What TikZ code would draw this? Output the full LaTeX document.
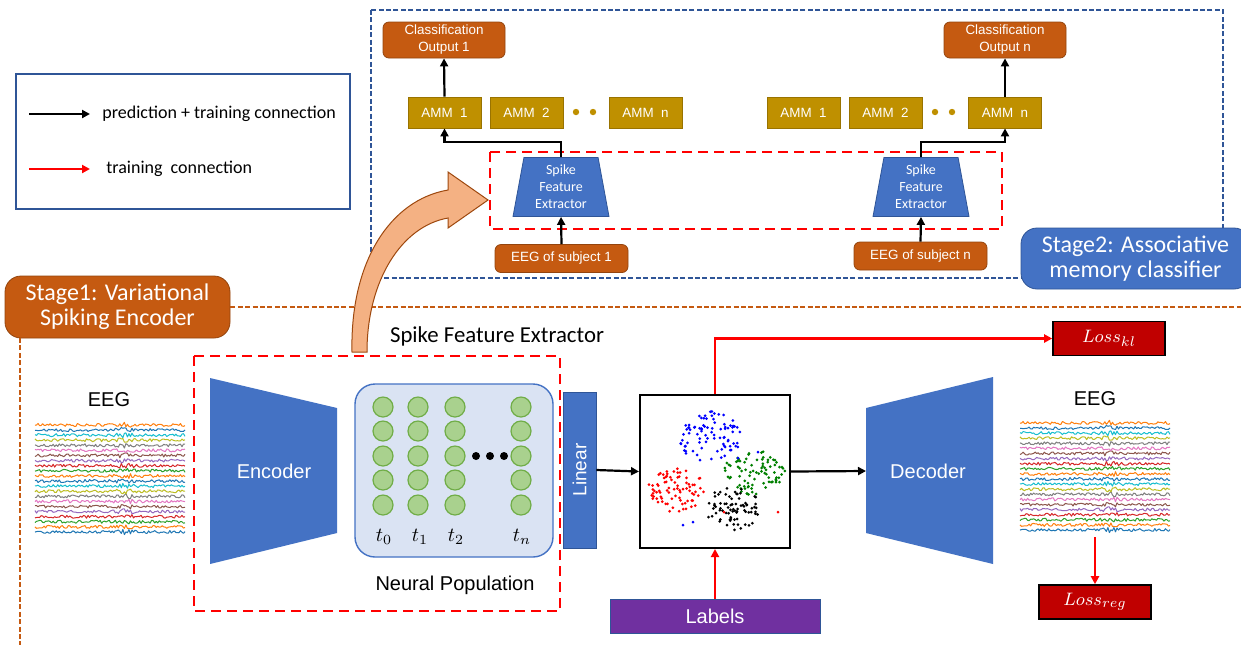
\documentclass[tikz,border=0pt]{standalone}
\usepackage{amsmath}
\usepackage{fontspec}
\setmainfont{Liberation Sans}
\newfontfamily\carlito{Carlito}
\usetikzlibrary{shapes.geometric,arrows.meta}

\definecolor{rust}{HTML}{C55A11}
\definecolor{office}{HTML}{4472C4}
\definecolor{navy}{HTML}{2F5597}
\definecolor{gold}{HTML}{BF9000}
\definecolor{popfill}{HTML}{DAE3F3}
\definecolor{cellfill}{HTML}{A9D18E}
\definecolor{cellline}{HTML}{70AD47}
\definecolor{lossred}{HTML}{C00000}
\definecolor{labpurple}{HTML}{7030A0}
\definecolor{peach}{HTML}{F4B183}
\definecolor{scgreen}{HTML}{008000}
\definecolor{mpl0}{HTML}{1F77B4}
\definecolor{mpl1}{HTML}{FF7F0E}
\definecolor{mpl2}{HTML}{2CA02C}
\definecolor{mpl3}{HTML}{D62728}
\definecolor{mpl4}{HTML}{9467BD}
\definecolor{mpl5}{HTML}{8C564B}
\definecolor{mpl6}{HTML}{E377C2}
\definecolor{mpl7}{HTML}{7F7F7F}
\definecolor{mpl8}{HTML}{BCBD22}
\definecolor{mpl9}{HTML}{17BECF}

\begin{document}
\begin{tikzpicture}[x=0.5pt, y=-0.5pt,
    tip/.style={-{Triangle[length=4pt,width=4pt]}},
    blk/.style={tip, draw=black, line width=1.1pt},
    redline/.style={tip, draw=red, line width=1.1pt},
    rustbox/.style={rounded corners=3pt, fill=rust, draw=rust!75!black, text=white, align=center, inner sep=0pt, font=\fontsize{6.7}{8.5}\selectfont},
    amm/.style={fill=gold, draw=gold!80!black, text=white, minimum width=36.5pt, minimum height=15.5pt, inner sep=0pt, font=\fontsize{6.7}{8}\selectfont},
    sfe/.style={trapezium, trapezium stretches body, trapezium left angle=76, trapezium right angle=76, fill=office, draw=navy, text=white, align=center, minimum width=48pt, minimum height=29.5pt, inner sep=0pt, font=\carlito\fontsize{7}{8.5}\selectfont},
    stage/.style={rounded corners=8pt, text=white, align=center, inner sep=0pt, font=\carlito\fontsize{12}{12.5}\selectfont},
    lossbox/.style={fill=lossred, draw=black, line width=0.8pt, text=white, minimum width=56pt, minimum height=17pt, inner sep=0pt, font=\fontsize{9.5}{11}\selectfont},
    bigtxt/.style={inner sep=0pt, font=\fontsize{10}{12}\selectfont},
    reddash/.style={draw=red, line width=1.2pt, dash pattern=on 5pt off 3pt},
    thindash/.style={line width=0.6pt, dash pattern=on 2.5pt off 1.2pt},
    cell/.style={circle, fill=cellfill, draw=cellline, line width=0.6pt, minimum size=10pt, inner sep=0pt}]
  \useasboundingbox (0,0) rectangle (1241,645);
  \fill[white] (0,0) rectangle (1241,645);

  % Legend
  \draw[navy, line width=0.8pt] (16,74) rectangle (350,209);
  \coordinate (lg1s) at (29,114);
  \coordinate (lg1e) at (90,114);
  \coordinate (lg2s) at (29,169);
  \coordinate (lg2e) at (90,169);
  \node[anchor=west, inner sep=0pt, font=\carlito\fontsize{9}{11}\selectfont] (lgtxt1) at (102,114) {prediction + training connection};
  \node[anchor=west, inner sep=0pt, font=\carlito\fontsize{9}{11}\selectfont] (lgtxt2) at (106,169) {training~~connection};
  \draw[blk, line width=1pt] (lg1s) -- (lg1e);
  \draw[redline, line width=1pt] (lg2s) -- (lg2e);

  % Stage 2
  \draw[navy, thindash] (371,10) rectangle (1223,278);
  \draw[reddash] (490,152) rectangle (1002,229);
  \node[rustbox, minimum width=61pt, minimum height=18pt] (out1) at (444,40) {Classification\\Output 1};
  \node[rustbox, minimum width=61pt, minimum height=18pt] (outn) at (1005,40) {Classification\\Output n};
  \node[amm] (amm1) at (444.5,112.5) {AMM~~1};
  \node[amm] (amm2) at (526.5,112.5) {AMM~~2};
  \node[amm] (ammn) at (645.5,112.5) {AMM~~n};
  \node[amm] (rammone) at (803.5,112.5) {AMM~~1};
  \node[amm] (rammtwo) at (885.5,112.5) {AMM~~2};
  \node[amm] (rammn) at (1005,112.5) {AMM~~n};
  \foreach \dx in {576,593,935,952}
    \fill[gold] (\dx,112) circle (1.6pt);
  \node[sfe] (sfe1) at (561,187) {Spike\\Feature\\Extractor};
  \node[sfe] (sfen) at (921,187) {Spike\\Feature\\Extractor};
  \node[rustbox, minimum width=66.5pt, minimum height=14pt] (subj1) at (561.5,258.5) {EEG of subject 1};
  \node[rustbox, minimum width=66.5pt, minimum height=14pt] (subjn) at (920.5,256) {EEG of subject n};
  \draw[blk] (subj1.north) -- (sfe1.south);
  \draw[blk] (subjn.north) -- (sfen.south);
  \draw[blk] (sfe1.north) -- ++(0,-15) -| (amm1.south);
  \draw[blk] (sfen.north) -- ++(0,-15) -| (rammn.south);
  \draw[blk] (amm1.north) -- (out1.south);
  \draw[blk] (rammn.north) -- (outn.south);
  \node[stage, fill=office, draw=navy, minimum width=114.5pt, minimum height=30.5pt] (st2) at (1135.5,258.5) {Stage2: Associative\\memory classifier};

  % Stage 1
  \node[stage, fill=rust, draw=rust!75!black, minimum width=112.5pt, minimum height=31pt] (st1) at (117.5,307) {Stage1: Variational\\Spiking Encoder};
  \draw[rust, thindash] (st1.east) -- (1241,307);
  \draw[rust, thindash] (20,338) -- (20,645);
  \draw[reddash] (194,356) rectangle (560,611);
  \node[font=\carlito\fontsize{11.4}{13}\selectfont, inner sep=0pt] (sfelab) at (497,336) {Spike Feature Extractor};

  % curved arrow
  \filldraw[fill=peach, draw=rust!80!black, line width=0.5pt] (352,352) .. controls (350,262) and (390,200) .. (448,190) -- (448,172) -- (488,200) -- (448,228) -- (448,218) .. controls (402,226) and (367,280) .. (367,352) -- cycle;

  % EEG traces
  \foreach \ox/\oy in {35/532, 1020/530}{
    \pgfmathsetseed{11}
    \pgfmathsetmacro\xend{\ox+150}
    \foreach \i in {0,...,21}{
      \pgfmathtruncatemacro\k{mod(\i,10)}
      \draw[mpl\k, line width=0.5pt, line join=round] plot[domain=\ox:\xend, samples=100] (\x, {\oy-5.1*\i+(1.5+1.5*max(0,1-abs(\x-\ox-90)/12))*rand});
    }
  }
  \node[bigtxt] (eegl) at (109,400) {EEG};
  \node[bigtxt] (eegr) at (1095,399) {EEG};
  \coordinate (eegout) at (1095,537);

  % Encoder
  \fill[office] (210,378) -- (337,408) -- (337,533) -- (210,564) -- cycle;
  \node[bigtxt, text=white] (enc) at (274,471) {Encoder};

  % Neural population
  \node[fill=popfill, draw=office, line width=0.7pt, rounded corners=10pt, minimum width=99pt, minimum height=86.5pt] (pop) at (454,470.5) {};
  \foreach \cx in {383,418,455,521}
    \foreach \cy in {407,431,456,480,505}
      \node[cell] at (\cx,\cy) {};
  \foreach \dx in {476,490,504}
    \fill[black] (\dx,456) circle (2pt);
  \node[font=\fontsize{10}{12}\selectfont] (t0) at (384,537) {$t_0$};
  \node[font=\fontsize{10}{12}\selectfont] (t1) at (420,537) {$t_1$};
  \node[font=\fontsize{10}{12}\selectfont] (t2) at (456,537) {$t_2$};
  \node[font=\fontsize{10}{12}\selectfont] (tn) at (522,537) {$t_n$};
  \node[bigtxt] (poplab) at (455,585) {Neural Population};

  % Linear, latent space, decoder
  \node[fill=office, draw=navy, rotate=90, minimum width=78pt, minimum height=16.5pt, inner sep=0pt, text=white, font=\fontsize{9.5}{11}\selectfont] (lin) at (579.5,470) {Linear};
  \node[draw=black, line width=1pt, minimum width=75pt, minimum height=76.5pt, inner sep=0pt] (scat) at (715,471.5) {};
  \pgfmathsetseed{3}
  \foreach \cx/\cy/\rx/\ry/\c/\n in {710/437/31/26/blue/85, 756/472/32/24/scgreen/85, 677/490/30/22/red/80, 733/508/28/22/black/75}{
    \foreach \j in {1,...,\n}{
      \pgfmathsetmacro\sang{360*rnd}
      \pgfmathsetmacro\srad{rnd^0.6}
      \fill[\c] ({\cx+\rx*\srad*cos(\sang)},{\cy+\ry*\srad*sin(\sang)}) circle (0.75pt);
    }
  }
  \foreach \px/\py/\c in {683/525/blue, 693/522/blue, 778/512/red, 700/460/blue, 738/458/blue, 758/452/blue, 700/478/red, 724/512/red, 716/513/black}
    \fill[\c] (\px,\py) circle (0.75pt);
  \fill[office] (866,408) -- (993,377) -- (993,564) -- (866,533) -- cycle;
  \coordinate (decin) at (866,471);
  \node[bigtxt, text=white] (dec) at (928,471) {Decoder};
  \node[fill=labpurple, draw=navy, line width=0.5pt, minimum width=105pt, minimum height=17pt, inner sep=0pt, text=white, font=\fontsize{10}{12}\selectfont] (labels) at (715,616) {Labels};
  \node[lossbox] (losskl) at (1109,338.5) {$Loss_{kl}$};
  \node[lossbox] (lossreg) at (1095,602) {$Loss_{reg}$};

  % Edges
  \draw[blk] (lin.south) -- (scat.west);
  \draw[blk] (scat.east) -- (decin);
  \draw[redline] (scat.north) |- (losskl.west);
  \draw[redline] (labels.north) -- (scat.south);
  \draw[redline] (eegout) -- (lossreg.north);
\end{tikzpicture}
\end{document}
